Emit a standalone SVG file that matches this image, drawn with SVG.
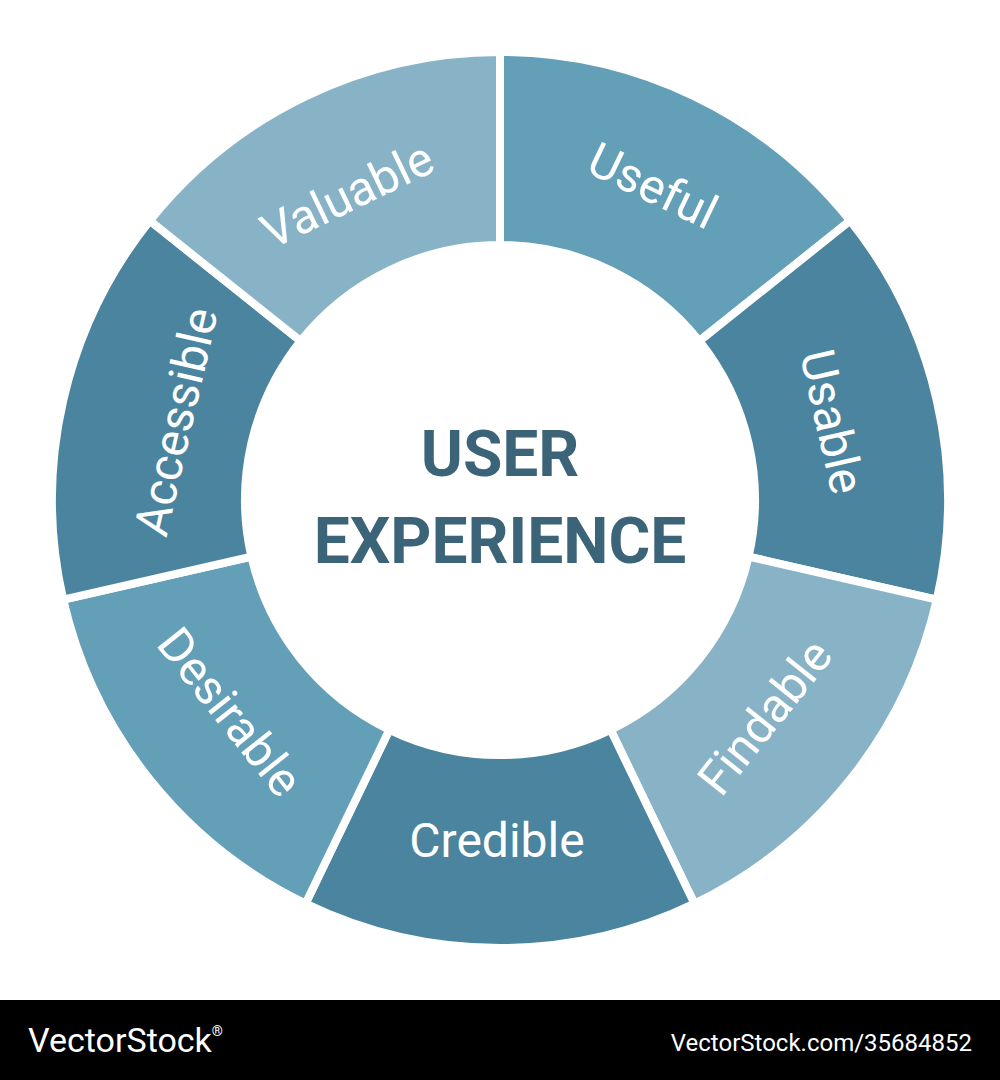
<svg xmlns="http://www.w3.org/2000/svg" width="1000" height="1080" viewBox="0 0 1000 1080">
<style>
.s{stroke:#fff;stroke-width:8;stroke-linejoin:miter}
.a{fill:#649fb8}.b{fill:#4a849e}.c{fill:#88b3c6}
.l{font-family:Roboto,"Liberation Sans",sans-serif;font-size:48px;fill:#fff;text-anchor:middle;dominant-baseline:central}
.t{font-family:Roboto,"Liberation Sans",sans-serif;font-size:64px;font-weight:bold;fill:#3c6478;text-anchor:middle}
.w{font-family:Roboto,"Liberation Sans",sans-serif;fill:#fff}
</style>
<rect width="1000" height="1080" fill="#fff"/>
<g id="useful"><path class="s a" d="M500,52 A448,448 0 0 1 850.2,220.7 L699.4,341 A255,255 0 0 0 500,245 Z"/><text class="l" transform="translate(652.7,186) rotate(25.71)">Useful</text></g>
<g id="usable"><path class="s b" d="M850.2,220.7 A448,448 0 0 1 936.8,599.7 L748.6,556.7 A255,255 0 0 0 699.4,341 Z"/><text class="l" transform="translate(832,421.7) rotate(77.14)">Usable</text></g>
<g id="findable"><path class="s c" d="M936.8,599.7 A448,448 0 0 1 694.4,903.6 L610.6,729.8 A255,255 0 0 0 748.6,556.7 Z"/><text class="l" transform="translate(765,717) rotate(-51.43)">Findable</text></g>
<g id="credible"><path class="s b" d="M694.4,903.6 A448,448 0 0 1 305.6,903.6 L389.4,729.8 A255,255 0 0 0 610.6,729.8 Z"/><text class="l" transform="translate(497,840)">Credible</text></g>
<g id="desirable"><path class="s a" d="M305.6,903.6 A448,448 0 0 1 63.2,599.7 L251.4,556.7 A255,255 0 0 0 389.4,729.8 Z"/><text class="l" transform="translate(230,712) rotate(51.43)">Desirable</text></g>
<g id="accessible"><path class="s b" d="M63.2,599.7 A448,448 0 0 1 149.8,220.7 L300.6,341 A255,255 0 0 0 251.4,556.7 Z"/><text class="l" transform="translate(176,421.7) rotate(-77.14)">Accessible</text></g>
<g id="valuable"><path class="s c" d="M149.8,220.7 A448,448 0 0 1 500,52 L500,245 A255,255 0 0 0 300.6,341 Z"/><text class="l" transform="translate(347.3,195) rotate(-25.71)">Valuable</text></g>
<g id="center"><text class="t" x="500" y="476">USER</text><text class="t" x="500" y="563">EXPERIENCE</text></g>
<g id="connectors"></g>
<g id="footer"><rect x="0" y="1000" width="1000" height="80" fill="#000"/>
<text class="w" x="28" y="1052" font-size="34">VectorStock<tspan font-size="14" dy="-16">®</tspan></text>
<text class="w" x="972" y="1051" font-size="24" text-anchor="end">VectorStock.com/35684852</text></g>
</svg>
